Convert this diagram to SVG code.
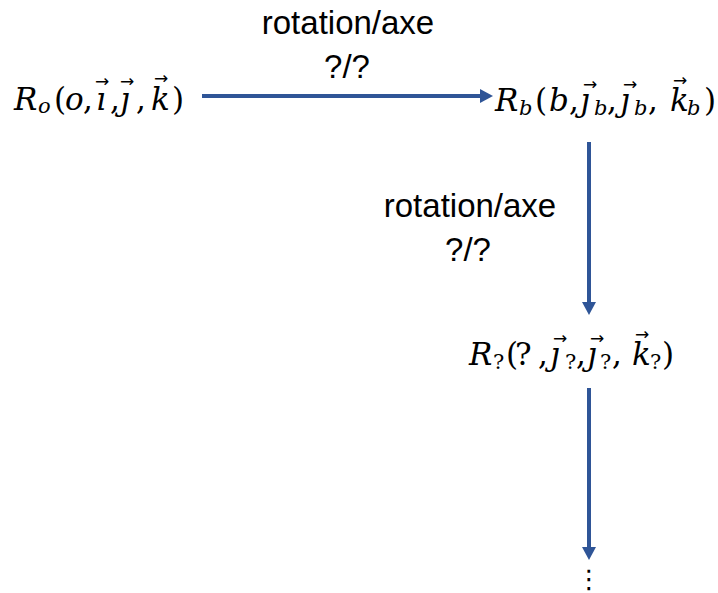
<svg xmlns="http://www.w3.org/2000/svg" width="718" height="593" viewBox="0 0 718 593">
<defs>
<style>
.m{font-family:"DejaVu Serif","Liberation Serif",serif;font-style:italic;font-size:31px;fill:#000}
.u{font-style:normal}
.s{font-size:21px}
.v{font-family:"DejaVu Sans","Liberation Sans",sans-serif;font-size:17px;fill:#000}
.lbl{font-family:"Liberation Sans",Arial,sans-serif;font-size:33px;fill:#000;text-anchor:middle}
.c{stroke:#2F5597;stroke-width:4;fill:none}
</style>
<marker id="ah" markerUnits="userSpaceOnUse" markerWidth="14" markerHeight="14" refX="2" refY="7" orient="auto">
<path d="M0,0 L13,7 L0,14 z" fill="#2F5597"/>
</marker>
</defs>
<rect width="718" height="593" fill="#fff"/>
<g id="connectors">
<line class="c" x1="202" y1="96" x2="482" y2="96" marker-end="url(#ah)"/>
<line class="c" x1="589" y1="142" x2="589" y2="304" marker-end="url(#ah)"/>
<line class="c" x1="589" y1="388" x2="589" y2="549" marker-end="url(#ah)"/>
</g>
<g id="label1">
<text class="lbl" x="348" y="34">rotation/axe</text>
<text class="lbl" x="347" y="78">?/?</text>
</g>
<g id="label2">
<text class="lbl" x="470" y="217">rotation/axe</text>
<text class="lbl" x="468" y="261">?/?</text>
</g>
<g id="node-Ro">
<text class="m"><tspan x="14" y="110">R</tspan><tspan class="s" x="38" y="113">o</tspan><tspan class="u" x="54" y="110">(</tspan><tspan x="65" y="110">o</tspan><tspan class="u" x="83" y="110">,</tspan><tspan x="96" y="110">ı</tspan><tspan class="u" x="110" y="110">,</tspan><tspan x="120" y="110">ȷ</tspan><tspan class="u" x="136" y="110">,</tspan><tspan x="151" y="110">k</tspan><tspan class="u" x="172" y="110">)</tspan></text>
<text class="v"><tspan x="95" y="87">→</tspan><tspan x="120" y="87">→</tspan><tspan x="154" y="84">→</tspan></text>
</g>
<g id="node-Rb">
<text class="m"><tspan x="495" y="111">R</tspan><tspan class="s" x="519" y="115">b</tspan><tspan class="u" x="535" y="111">(</tspan><tspan x="549" y="111">b</tspan><tspan class="u" x="569" y="111">,</tspan><tspan x="580" y="111">ȷ</tspan><tspan class="s" x="594" y="115">b</tspan><tspan class="u" x="607" y="111">,</tspan><tspan x="620" y="111">ȷ</tspan><tspan class="s" x="634" y="115">b</tspan><tspan class="u" x="648" y="111">,</tspan><tspan x="670" y="111">k</tspan><tspan class="s" x="687" y="115">b</tspan><tspan class="u" x="704" y="111">)</tspan></text>
<text class="v"><tspan x="583" y="90">→</tspan><tspan x="623" y="90">→</tspan><tspan x="673" y="86">→</tspan></text>
</g>
<g id="node-R3">
<text class="m"><tspan x="469" y="365">R</tspan><tspan class="s u" x="493" y="369">?</tspan><tspan class="u" x="506" y="365">(</tspan><tspan class="u" x="515" y="365">?</tspan><tspan class="u" x="538" y="365">,</tspan><tspan x="550" y="365">ȷ</tspan><tspan class="s u" x="565" y="369">?</tspan><tspan class="u" x="576" y="365">,</tspan><tspan x="587" y="365">ȷ</tspan><tspan class="s u" x="600" y="369">?</tspan><tspan class="u" x="612" y="365">,</tspan><tspan x="632" y="365">k</tspan><tspan class="s u" x="650" y="369">?</tspan><tspan class="u" x="662" y="365">)</tspan></text>
<text class="v"><tspan x="553" y="344">→</tspan><tspan x="590" y="344">→</tspan><tspan x="635" y="340">→</tspan></text>
</g>
<g id="dots">
<text x="589" y="588" font-family="DejaVu Sans,sans-serif" font-size="26" text-anchor="middle" fill="#000">⋮</text>
</g>
</svg>
